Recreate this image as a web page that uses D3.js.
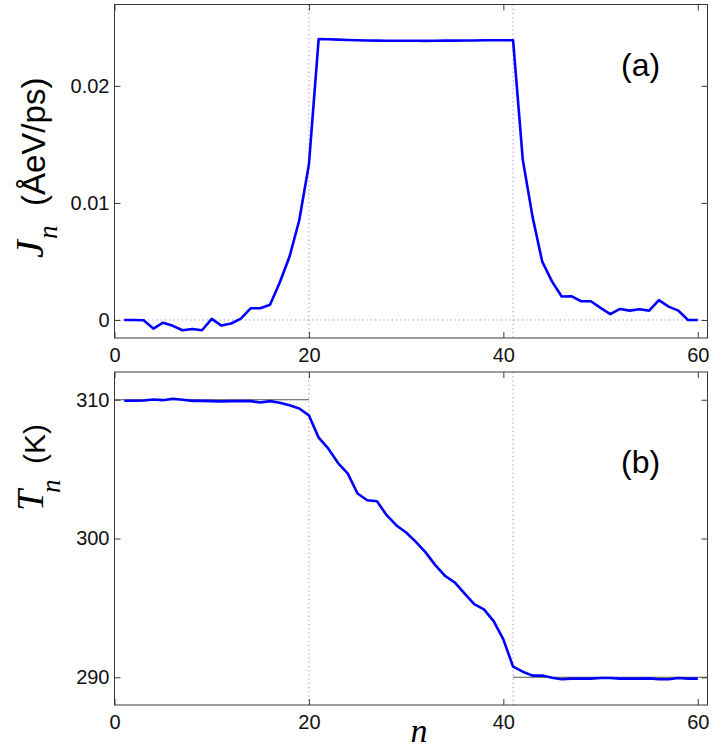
<!DOCTYPE html>
<html><head><meta charset="utf-8">
<script src="https://cdn.jsdelivr.net/npm/d3@7"></script>
<style>body{margin:0;background:#fff}svg{display:block}</style>
</head><body>
<svg id="c" width="713" height="750"></svg>
<script>
// ---- data ----
const nSites = [1,2,3,4,5,6,7,8,9,10,11,12,13,14,15,16,17,18,19,20,21,22,23,24,25,26,27,28,29,30,
  31,32,33,34,35,36,37,38,39,40,41,42,43,44,45,46,47,48,49,50,51,52,53,54,55,56,57,58,59,60];
const fluxJ = [0,0,-0.00002,-0.00074,-0.00023,-0.0005,-0.00088,-0.00077,-0.00088,0.00009,
  -0.00048,-0.0003,0.00011,0.001,0.001,0.0013,0.0032,0.0054,0.0085,0.0133,
  0.0240,0.02398,0.02395,0.02392,0.0239,0.02388,0.02386,0.02385,0.02385,0.02385,
  0.02385,0.02384,0.02385,0.02386,0.02386,0.02387,0.02388,0.02389,0.02389,0.0239,
  0.0239,0.01368,0.00883,0.00498,0.0033,0.002,0.00203,0.0016,0.0016,0.00103,
  0.0005,0.00094,0.0008,0.00091,0.0008,0.0017,0.00114,0.0008,0,0];
const tempT = [309.93,309.93,309.95,310.02,309.97,310.07,310.0,309.92,309.92,309.9,
  309.88,309.9,309.9,309.9,309.8,309.9,309.78,309.61,309.37,308.87,
  307.27,306.47,305.44,304.68,303.24,302.76,302.68,301.68,300.94,300.43,
  299.76,299.0,298.08,297.31,296.83,296.04,295.27,294.89,294.05,292.73,
  290.76,290.4,290.12,290.12,289.97,289.86,289.9,289.9,289.9,289.95,
  289.95,289.9,289.9,289.9,289.92,289.86,289.86,289.95,289.9,289.9];
const xTicks = [0,20,40,60];
const jTicks = [0,0.01,0.02];
const jTickLabels = ["0","0.01","0.02"];
const tTicks = [290,300,310];
const boundaries = [20,41];
const bathT = [{n0:0,n1:20,T:310},{n0:41,n1:61,T:290}];

// ---- layout ----
const svg = d3.select("#c");
svg.append("rect").attr("width",713).attr("height",750).attr("fill","#fff");
const L = 114.5, R = 707.5;
const x = d3.scaleLinear().domain([0,61]).range([L,R]);
const yJ = d3.scaleLinear().domain([-0.00154,0.02695]).range([338,4.5]);
const yT = d3.scaleLinear().domain([288,312]).range([705,372]);

const sans = "'Liberation Sans', Arial, Helvetica, sans-serif";
const serif = "'Liberation Serif', 'Times New Roman', serif";
const dotColor = "#8a8af0";
const boxColor = "#3a3a3a";

function panel(top, bottom){
  const g = svg.append("g");
  g.selectAll("line.vb").data(boundaries).join("line")
    .attr("x1",d=>x(d)).attr("x2",d=>x(d)).attr("y1",top).attr("y2",bottom)
    .attr("stroke",dotColor).attr("stroke-width",1).attr("stroke-dasharray","1.2,3");
  return g;
}

function axes(y, yTicks, yFmt, top, bottom){
  const ax = svg.append("g");
  const style = sel => {
    sel.select(".domain").remove();
    sel.selectAll("line").attr("stroke",boxColor);
    sel.selectAll("text").attr("font-family",sans).attr("font-size",20).attr("fill","#111");
  };
  ax.append("g").attr("transform",`translate(0,${bottom})`)
    .call(d3.axisBottom(x).tickValues(xTicks).tickSize(-6).tickPadding(10).tickFormat(d3.format("d"))).call(style);
  ax.append("g").attr("transform",`translate(0,${top})`)
    .call(d3.axisTop(x).tickValues(xTicks).tickSize(-6).tickFormat("")).call(style);
  ax.append("g").attr("transform",`translate(${L},0)`)
    .call(d3.axisLeft(y).tickValues(yTicks).tickSize(-6).tickPadding(5).tickFormat(yFmt)).call(style);
  ax.append("g").attr("transform",`translate(${R},0)`)
    .call(d3.axisRight(y).tickValues(yTicks).tickSize(-6).tickFormat("")).call(style);
  ax.append("rect").attr("x",L).attr("y",top).attr("width",R-L).attr("height",bottom-top)
    .attr("fill","none").attr("stroke",boxColor).attr("stroke-width",1);
}

// ---- panel (a) ----
const ga = panel(4.5, 338);
ga.append("line").attr("x1",L).attr("x2",R).attr("y1",yJ(0)).attr("y2",yJ(0))
  .attr("stroke",dotColor).attr("stroke-width",1).attr("stroke-dasharray","1.2,3");
ga.append("path").datum(nSites.map((n,i)=>[n,fluxJ[i]]))
  .attr("fill","none").attr("stroke","#0000ff").attr("stroke-width",2.6).attr("stroke-linejoin","round")
  .attr("d",d3.line().x(d=>x(d[0])).y(d=>yJ(d[1])));
axes(yJ, jTicks, (d,i)=>jTickLabels[i], 4.5, 338);

// ---- panel (b) ----
const gb = panel(372, 705);
gb.selectAll("line.bath").data(bathT).join("line")
  .attr("x1",d=>x(d.n0)).attr("x2",d=>x(d.n1)).attr("y1",d=>yT(d.T)).attr("y2",d=>yT(d.T))
  .attr("stroke","#555").attr("stroke-width",1);
gb.append("path").datum(nSites.map((n,i)=>[n,tempT[i]]))
  .attr("fill","none").attr("stroke","#0000ff").attr("stroke-width",2.6).attr("stroke-linejoin","round")
  .attr("d",d3.line().x(d=>x(d[0])).y(d=>yT(d[1])));
axes(yT, tTicks, d3.format("d"), 372, 705);

// ---- panel letters ----
svg.append("text").attr("x",621).attr("y",76).text("(a)")
  .attr("font-family",sans).attr("font-size",32).attr("fill","#000");
svg.append("text").attr("x",621).attr("y",473).text("(b)")
  .attr("font-family",sans).attr("font-size",32).attr("fill","#000");

// ---- axis labels ----
const la = svg.append("g").attr("transform","translate(43,258) rotate(-90)");
la.append("text").attr("x",0).attr("y",0).text("J")
  .attr("font-family",serif).attr("font-style","italic").attr("font-size",40);
la.append("text").attr("x",19).attr("y",14).text("n")
  .attr("font-family",serif).attr("font-style","italic").attr("font-size",27);
la.append("text").attr("x",52).attr("y",2).text("(ÅeV/ps)")
  .attr("font-family",sans).attr("font-size",33);

const lb = svg.append("g").attr("transform","translate(43,511) rotate(-90)");
lb.append("text").attr("x",0).attr("y",0).text("T")
  .attr("font-family",serif).attr("font-style","italic").attr("font-size",38);
lb.append("text").attr("x",18).attr("y",17).text("n")
  .attr("font-family",serif).attr("font-style","italic").attr("font-size",27);
lb.append("text").attr("x",47).attr("y",2).text("(K)")
  .attr("font-family",sans).attr("font-size",30);

svg.append("text").attr("x",419).attr("y",742).attr("text-anchor","middle").text("n")
  .attr("font-family",serif).attr("font-style","italic").attr("font-size",34);
</script>
</body></html>
